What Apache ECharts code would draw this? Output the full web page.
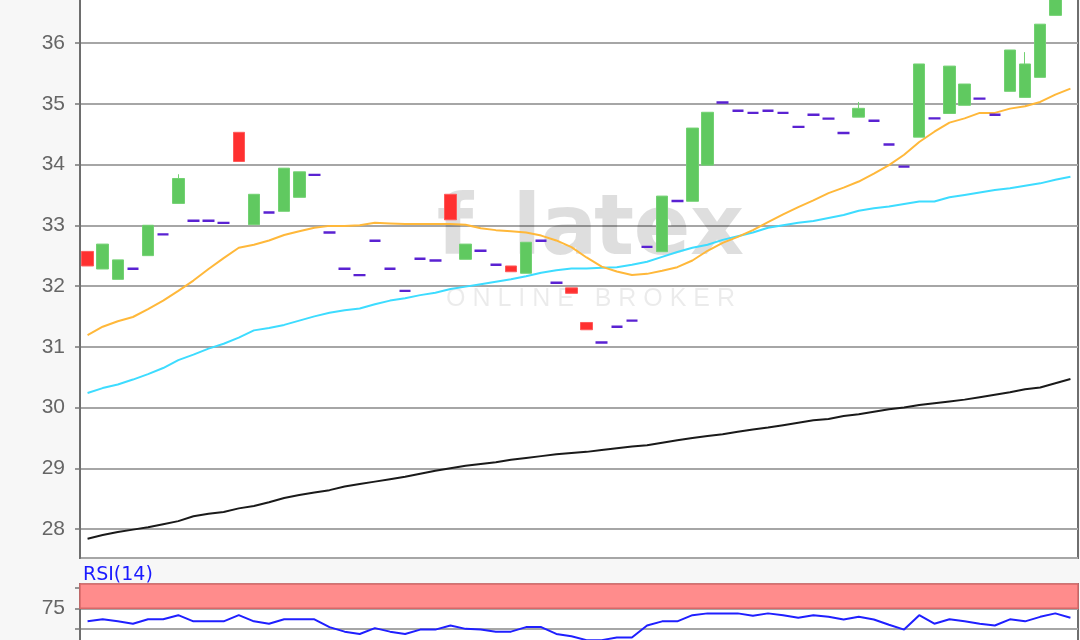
<!DOCTYPE html>
<html><head><meta charset="utf-8">
<script src="https://cdn.jsdelivr.net/npm/echarts@6/dist/echarts.min.js"></script>
<style>html,body{margin:0;padding:0;background:#f7f7f7}#c{width:1080px;height:640px}</style>
</head><body><div id="c"></div>
<script>
// ---- data ----
const categories = Array.from({length: 66}, (_, i) => String(i + 1));
const openP = [32.57,32.28,32.11,32.285,32.50,32.85,33.36,33.075,33.075,33.04,34.53,33.01,33.21,33.23,33.46,33.83,32.88,32.285,32.18,32.745,32.285,31.92,32.45,32.42,33.51,32.44,32.58,32.35,32.33,32.21,32.745,32.055,31.97,31.40,31.07,31.33,31.43,32.645,32.565,33.40,33.395,33.99,35.02,34.885,34.85,34.885,34.85,34.62,34.82,34.755,34.52,34.78,34.72,34.33,33.965,34.45,34.76,34.84,34.975,35.085,34.82,35.205,35.105,35.435,36.455,36.95];
const closeP = [32.33,32.69,32.43,32.285,33.00,32.85,33.77,33.075,33.075,33.04,34.05,33.51,33.21,33.94,33.88,33.83,32.88,32.285,32.18,32.745,32.285,31.92,32.45,32.42,33.09,32.69,32.58,32.35,32.235,32.72,32.745,32.055,31.88,31.28,31.07,31.33,31.43,32.645,33.48,33.40,34.60,34.86,35.02,34.885,34.85,34.885,34.85,34.62,34.82,34.755,34.52,34.925,34.72,34.33,33.965,35.655,34.76,35.62,35.325,35.085,34.82,35.885,35.655,36.31,36.90,37.30];
const lowP = [32.33,32.28,32.11,32.285,32.50,32.85,33.36,33.075,33.075,33.04,34.05,33.01,33.21,33.23,33.46,33.83,32.88,32.285,32.18,32.745,32.285,31.92,32.45,32.42,33.09,32.44,32.58,32.35,32.235,32.21,32.745,32.055,31.88,31.28,31.07,31.33,31.43,32.645,32.565,33.40,33.395,33.99,35.02,34.885,34.85,34.885,34.85,34.62,34.82,34.755,34.52,34.78,34.72,34.33,33.965,34.45,34.76,34.84,34.975,35.085,34.82,35.205,35.105,35.435,36.455,36.95];
const highP = [32.57,32.69,32.43,32.285,33.00,32.85,33.84,33.075,33.075,33.04,34.53,33.51,33.21,33.94,33.88,33.83,32.88,32.285,32.18,32.745,32.285,31.92,32.45,32.42,33.51,32.69,32.58,32.35,32.33,32.72,32.745,32.055,31.97,31.40,31.07,31.33,31.43,32.645,33.48,33.40,34.60,34.86,35.02,34.885,34.85,34.885,34.85,34.62,34.82,34.755,34.52,35.03,34.72,34.33,33.965,35.655,34.76,35.62,35.325,35.085,34.82,35.885,35.85,36.31,36.90,37.30];
const maShort = [31.19,31.33,31.42,31.49,31.62,31.76,31.92,32.09,32.28,32.46,32.63,32.68,32.75,32.84,32.90,32.96,32.99,32.99,33.00,33.04,33.03,33.02,33.02,33.02,33.02,33.01,32.95,32.92,32.90,32.88,32.83,32.75,32.64,32.47,32.32,32.24,32.18,32.20,32.25,32.31,32.42,32.58,32.71,32.81,32.92,33.05,33.18,33.30,33.41,33.53,33.62,33.72,33.85,33.99,34.16,34.37,34.54,34.69,34.76,34.85,34.85,34.92,34.96,35.03,35.15,35.25];
const maMid = [30.24,30.32,30.38,30.46,30.55,30.65,30.78,30.87,30.97,31.05,31.15,31.27,31.31,31.36,31.43,31.50,31.56,31.60,31.63,31.70,31.76,31.80,31.85,31.89,31.95,31.99,32.03,32.07,32.11,32.16,32.22,32.26,32.29,32.29,32.30,32.31,32.35,32.40,32.48,32.56,32.63,32.68,32.76,32.82,32.88,32.96,33.00,33.04,33.07,33.12,33.17,33.24,33.28,33.31,33.35,33.39,33.39,33.46,33.50,33.54,33.58,33.61,33.65,33.69,33.75,33.80];
const maLong = [27.84,27.90,27.95,27.99,28.03,28.08,28.13,28.21,28.25,28.28,28.34,28.38,28.44,28.51,28.56,28.60,28.64,28.70,28.74,28.78,28.82,28.86,28.91,28.96,29.00,29.04,29.07,29.10,29.14,29.17,29.20,29.23,29.25,29.27,29.30,29.33,29.36,29.38,29.42,29.46,29.50,29.53,29.56,29.60,29.64,29.67,29.71,29.75,29.79,29.81,29.86,29.89,29.93,29.97,30.00,30.04,30.07,30.10,30.13,30.17,30.21,30.25,30.30,30.33,30.40,30.47];
const rsi = [59.1,61.6,59.1,56.3,61.6,61.6,66.6,59.1,59.1,59.1,66.6,59.1,56.3,61.6,61.6,61.6,52.1,46.6,43.8,50.9,46.6,43.8,49.1,49.1,54.1,50.0,49.1,46.6,46.6,52.1,52.1,43.8,40.9,36.3,36.3,39.6,39.6,54.1,59.1,59.1,66.6,68.8,68.8,68.8,65.9,68.8,66.6,63.4,66.6,64.6,61.3,64.6,61.3,55.0,49.1,66.6,56.3,61.6,59.1,56.3,54.1,61.6,59.1,64.6,68.8,63.4];
const rsiBand = [75, 104.5];
const rsiLabel = 'RSI(14)';
const watermarkLetters = ['f', 'l', 'a', 't', 'e', 'x'];
const watermarkSub = 'O N L I N E   B R O K E R';

// ---- chart ----
const UP = '#60c960', UPB = '#72d172', DN = '#ff3030', DNB = '#ff5a5a', DOJI = '#5a22d2';
const candleData = openP.map((o, i) => {
  const c = closeP[i];
  const item = {value: [o, c, lowP[i], highP[i]]};
  if (o === c) item.itemStyle = {color: DOJI, color0: DOJI, borderColor: DOJI, borderColor0: DOJI, borderWidth: 2.4};
  return item;
});
const axisFont = {fontFamily: 'Liberation Sans, Arial, sans-serif', fontSize: 21, color: '#666'};
const letterX = [455, 527, 569, 614, 662, 717];
const wm = watermarkLetters.map((ch, i) => ({
  type: 'text', z: 1, x: letterX[i], y: 232,
  style: {text: ch, fill: 'rgba(0,0,0,0.13)', font: 'bold 84px "DejaVu Sans", sans-serif', align: 'center', verticalAlign: 'middle'}
}));
const chart = echarts.init(document.getElementById('c'), null, {renderer: 'canvas'});
chart.setOption({
  backgroundColor: '#f7f7f7',
  animation: false,
  grid: [
    {left: 80, right: 2, top: -2, height: 560, show: true, backgroundColor: '#fff', borderColor: '#6e6e6e', borderWidth: 2, outerBoundsMode: 'none', containLabel: false},
    {left: 80, right: 2, top: 584, height: 86, show: true, backgroundColor: '#fff', borderColor: '#6e6e6e', borderWidth: 2, outerBoundsMode: 'none', containLabel: false}
  ],
  xAxis: [
    {type: 'category', data: categories, gridIndex: 0, boundaryGap: true, axisLine: {show: false}, axisTick: {show: false}, axisLabel: {show: false}, splitLine: {show: false}},
    {type: 'category', data: categories, gridIndex: 1, boundaryGap: true, axisLine: {show: false}, axisTick: {show: false}, axisLabel: {show: false}, splitLine: {show: false}}
  ],
  yAxis: [
    {type: 'value', gridIndex: 0, min: 27.523, max: 36.741, splitNumber: 9, minInterval: 1, maxInterval: 1,
     axisLine: {show: true, lineStyle: {color: '#6e6e6e', width: 2}},
     axisTick: {show: true, length: 5, lineStyle: {color: '#777', width: 1.5}},
     axisLabel: Object.assign({margin: 15, showMinLabel: false, showMaxLabel: false,
       formatter: v => (Math.abs(v - Math.round(v)) < 1e-6 ? String(Math.round(v)) : '')}, axisFont),
     splitLine: {show: true, lineStyle: {color: '#a6a6a6', width: 2}}},
    {type: 'value', gridIndex: 1, min: 0, max: rsiBand[1], splitNumber: 4, minInterval: 25, maxInterval: 25,
     axisLine: {show: true, lineStyle: {color: '#6e6e6e', width: 2}},
     axisTick: {show: true, length: 5, lineStyle: {color: '#777', width: 1.5}},
     axisLabel: Object.assign({margin: 15, showMinLabel: false, showMaxLabel: false, formatter: v => (v === 75 ? '75' : '')}, axisFont),
     splitLine: {show: true, lineStyle: {color: '#a6a6a6', width: 2}}}
  ],
  graphic: wm.concat([
    {type: 'text', z: 1, left: 446, top: 287, style: {text: watermarkSub, fill: 'rgba(0,0,0,0.08)', font: '25px "Liberation Sans", Arial, sans-serif'}},
    {type: 'text', z: 5, left: 83, top: 566, style: {text: rsiLabel, fill: '#1a1aff', font: '19px "DejaVu Sans", sans-serif'}}
  ]),
  series: [
    {type: 'line', xAxisIndex: 0, yAxisIndex: 0, data: maLong, symbol: 'none', lineStyle: {color: '#1a1a1a', width: 2}, z: 3},
    {type: 'line', xAxisIndex: 0, yAxisIndex: 0, data: maMid, symbol: 'none', lineStyle: {color: '#3ddcff', width: 2}, z: 3},
    {type: 'line', xAxisIndex: 0, yAxisIndex: 0, data: maShort, symbol: 'none', lineStyle: {color: '#ffb83a', width: 2}, z: 3},
    {type: 'candlestick', xAxisIndex: 0, yAxisIndex: 0, data: candleData, barWidth: 12, z: 4,
     itemStyle: {color: UP, color0: DN, borderColor: UPB, borderColor0: DNB, borderWidth: 1}},
    {type: 'line', xAxisIndex: 1, yAxisIndex: 1, data: rsi, symbol: 'none', lineStyle: {color: '#1f1fff', width: 2}, z: 3,
     markArea: {silent: true, itemStyle: {color: '#ff8c8c', borderColor: '#d86868', borderWidth: 1.5},
       data: [[{yAxis: rsiBand[0]}, {yAxis: rsiBand[1]}]]}}
  ]
});
</script></body></html>
